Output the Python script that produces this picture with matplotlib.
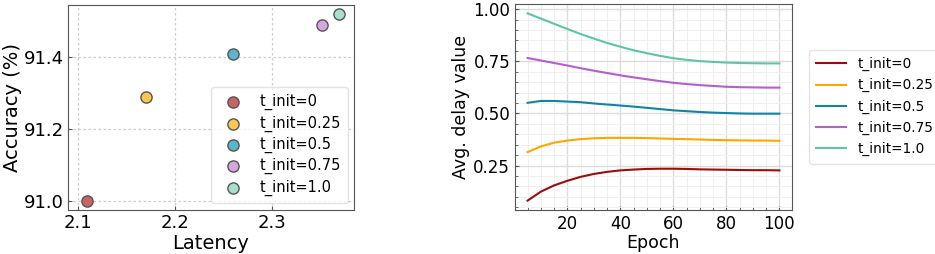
import matplotlib
matplotlib.use("Agg")
import matplotlib.pyplot as plt
from matplotlib.ticker import AutoMinorLocator, MultipleLocator

# ---- data ----
labels = ["t_init=0", "t_init=0.25", "t_init=0.5", "t_init=0.75", "t_init=1.0"]
latency = [2.11, 2.17, 2.26, 2.352, 2.37]
accuracy = [91.0, 91.29, 91.41, 91.49, 91.52]
scatter_colors = ["#C86464", "#FAC850", "#5AB6CE", "#D7A6DF", "#A6DFCC"]

epochs = [5, 10, 15, 20, 25, 30, 35, 40, 45, 50, 55, 60, 65, 70, 75, 80, 85, 90, 95, 100]
delay_t0 = [0.082, 0.125, 0.155, 0.177, 0.196, 0.210, 0.220, 0.227, 0.231, 0.234, 0.235, 0.235, 0.234, 0.232, 0.231, 0.230, 0.229, 0.228, 0.228, 0.227]
delay_t025 = [0.315, 0.342, 0.360, 0.370, 0.377, 0.381, 0.383, 0.383, 0.383, 0.382, 0.380, 0.378, 0.377, 0.375, 0.373, 0.372, 0.371, 0.370, 0.370, 0.369]
delay_t05 = [0.551, 0.560, 0.560, 0.557, 0.554, 0.548, 0.543, 0.538, 0.533, 0.527, 0.521, 0.515, 0.511, 0.507, 0.504, 0.502, 0.500, 0.499, 0.499, 0.499]
delay_t075 = [0.766, 0.754, 0.742, 0.730, 0.717, 0.705, 0.694, 0.683, 0.673, 0.664, 0.655, 0.647, 0.641, 0.636, 0.632, 0.628, 0.626, 0.625, 0.624, 0.624]
delay_t1 = [0.980, 0.955, 0.930, 0.905, 0.881, 0.859, 0.838, 0.820, 0.803, 0.789, 0.776, 0.765, 0.757, 0.751, 0.747, 0.744, 0.742, 0.741, 0.740, 0.740]
delay_series = [delay_t0, delay_t025, delay_t05, delay_t075, delay_t1]
line_colors = ["#9B0D0D", "#FFA500", "#1383A3", "#B35FCC", "#5DC4A8"]

plt.rcParams['font.family'] = ['DejaVu Sans']

fig = plt.figure(figsize=(9.35, 2.54), dpi=100)

# ---- left: scatter ----
ax1 = fig.add_axes([68/935, 1-210/254, (354-68)/935, (210-5)/254])
for x, y, c, lab in zip(latency, accuracy, scatter_colors, labels):
    ax1.scatter(x, y, s=65, color=c, edgecolor="#555555", linewidth=1.0, label=lab, zorder=3)
ax1.set_xlim(2.09, 2.385)
ax1.set_ylim(90.975, 91.545)
ax1.xaxis.set_major_locator(MultipleLocator(0.1))
ax1.yaxis.set_major_locator(MultipleLocator(0.2))
ax1.grid(True, linestyle=(0, (2, 2)), color="#cccccc", linewidth=0.9)
ax1.tick_params(direction="in", labelsize=13, length=3, color="#555555", pad=3)
for s in ax1.spines.values():
    s.set_color("#555555")
ax1.set_xlabel("Latency", fontsize=14, labelpad=1)
ax1.set_ylabel("Accuracy (%)", fontsize=14, labelpad=1)
ax1.legend(loc="lower right", fontsize=10.5, frameon=True, framealpha=0.8,
           edgecolor="#dddddd", handletextpad=0.8, labelspacing=0.35,
           borderpad=0.5, borderaxespad=0, bbox_to_anchor=(0.98, 0.035))

# ---- right: lines ----
ax2 = fig.add_axes([515/935, 1-210/254, (792-515)/935, (210-4)/254])
for ys, c, lab in zip(delay_series, line_colors, labels):
    ax2.plot(epochs, ys, color=c, linewidth=1.5, label=lab)
ax2.margins(x=0.05, y=0.05)
ax2.xaxis.set_major_locator(MultipleLocator(20))
ax2.yaxis.set_major_locator(MultipleLocator(0.25))
ax2.xaxis.set_minor_locator(AutoMinorLocator())
ax2.yaxis.set_minor_locator(AutoMinorLocator())
ax2.grid(True, which="major", color="#dcdcdc", linewidth=1.0)
ax2.grid(True, which="minor", color="#efefef", linewidth=0.7)
ax2.set_axisbelow(True)
ax2.tick_params(which="both", direction="in", color="#555555")
ax2.tick_params(which="major", labelsize=12, length=3)
ax2.tick_params(which="minor", length=2)
for s in ax2.spines.values():
    s.set_color("#555555")
ax2.set_xlabel("Epoch", fontsize=12.5, labelpad=1)
ax2.set_ylabel("Avg. delay value", fontsize=12.5, labelpad=2)
ax2.legend(loc="center left", bbox_to_anchor=(1.061, 0.502), fontsize=9.8,
           frameon=True, edgecolor="#dddddd", handlelength=2.2,
           labelspacing=0.52, borderpad=0.55, borderaxespad=0)

fig.savefig("out.png", dpi=100)
